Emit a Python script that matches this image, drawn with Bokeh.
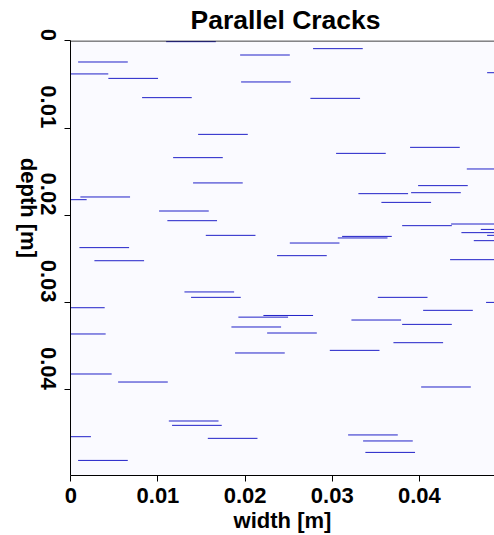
import math
import numpy as np
from bokeh.plotting import figure
from bokeh.models import Range1d, FixedTicker, Span, ColumnDataSource
from bokeh.embed import file_html
from bokeh.resources import INLINE

# ---- data ----
CRACK_LENGTH = 0.0057  # m, all cracks same length
crack_x_start = [
    0.01094, 0.01943, 0.00084, -0.00140, 0.00431, 0.01954, 0.00818, 0.01461,
    0.01174, 0.02780, 0.04777, 0.02749, 0.03893, 0.03044, 0.04544, 0.01403,
    0.00110, -0.00388, 0.01013, 0.01108, 0.01549, 0.00099, 0.00271, 0.02367,
    0.01304, 0.01380, -0.00181, 0.01923, 0.02210, 0.03985, 0.03300, 0.03905,
    0.03564, 0.04364, 0.03802, 0.04705, 0.04482, 0.04777, 0.04624, 0.03113,
    0.03064, 0.02513, 0.04352, 0.03523, 0.04765, 0.04043, 0.03220, 0.01843,
    0.02253, -0.00170, 0.01885, -0.00101, 0.00543, 0.01125, 0.01162, -0.00339,
    0.01572, 0.00084, 0.03802, 0.03702, 0.02972, 0.04020, 0.03182, 0.03354,
    0.03380,
]
crack_depth = [
    0.00008, 0.00161, 0.00241, 0.00378, 0.00429, 0.00470, 0.00650, 0.01071,
    0.01338, 0.00088, 0.00364, 0.00658, 0.01220, 0.01289, 0.01468, 0.01628,
    0.01789, 0.01820, 0.01950, 0.02061, 0.02229, 0.02370, 0.02520, 0.02462,
    0.02878, 0.02940, 0.03059, 0.03167, 0.03148, 0.01659, 0.01751, 0.01740,
    0.01851, 0.02099, 0.02118, 0.02161, 0.02198, 0.02229, 0.02290, 0.02241,
    0.02259, 0.02317, 0.02508, 0.02940, 0.02998, 0.03089, 0.03200, 0.03280,
    0.03349, 0.03360, 0.03578, 0.03819, 0.03911, 0.04358, 0.04408, 0.04538,
    0.04557, 0.04810, 0.03250, 0.03460, 0.03548, 0.03968, 0.04518, 0.04587,
    0.04718,
]
X_TICKS = [0, 0.01, 0.02, 0.03, 0.04]
X_TICK_LABELS = ["0", "0.01", "0.02", "0.03", "0.04"]
Y_TICKS = [0, 0.01, 0.02, 0.03, 0.04]
Y_TICK_LABELS = ["0", "0.01", "0.02", "0.03", "0.04"]
TITLE = "Parallel Cracks"
X_LABEL = "width [m]"
Y_LABEL = "depth [m]"

x0 = np.array(crack_x_start)
y0 = np.array(crack_depth)
src = ColumnDataSource(dict(x0=x0, x1=x0 + CRACK_LENGTH, y=y0))

FONT = "Liberation Sans"

p = figure(width=494, height=535, output_backend="svg", toolbar_location=None,
           x_range=Range1d(-0.000034, 0.048617),
           y_range=Range1d(0.04983, -0.000054),
           min_border_left=70, min_border_right=0, min_border_top=40,
           min_border_bottom=60, title=TITLE)
p.border_fill_color = "white"
p.background_fill_color = "#fafaff"
p.outline_line_color = None
p.xgrid.visible = False
p.ygrid.visible = False

p.title.text_font = FONT
p.title.text_font_size = "26.5px"
p.title.text_font_style = "bold"
p.title.text_color = "black"
p.title.align = "left"
p.title.vertical_align = "top"
p.title.offset = 120
p.title.standoff = 8

p.segment(x0="x0", y0="y", x1="x1", y1="y", source=src,
          line_color="#2020c8", line_width=1)

p.add_layout(Span(location=0, dimension="width", line_color="black", line_width=1))

for ax, ticks, labels in ((p.xaxis[0], X_TICKS, X_TICK_LABELS), (p.yaxis[0], Y_TICKS, Y_TICK_LABELS)):
    ax.ticker = FixedTicker(ticks=ticks)
    ax.major_label_overrides = {t: l for t, l in zip(ticks, labels)}
    ax.minor_tick_line_color = None
    ax.major_tick_in = 0
    ax.major_tick_out = 6
    ax.major_tick_line_color = "black"
    ax.axis_line_color = "black"
    ax.major_label_text_font = FONT
    ax.major_label_text_font_style = "bold"
    ax.major_label_text_font_size = "22px"
    ax.major_label_text_color = "black"
    ax.axis_label_text_font = FONT
    ax.axis_label_text_font_style = "bold"
    ax.axis_label_text_font_size = "22px"
    ax.axis_label_text_color = "black"

p.xaxis.axis_label = X_LABEL
p.yaxis.axis_label = Y_LABEL
p.xaxis.major_label_standoff = 6
p.xaxis.axis_label_standoff = 2
p.yaxis.major_label_orientation = -math.pi / 2
p.yaxis.major_label_standoff = 16
p.yaxis.axis_label_standoff = 2
try:
    p.yaxis[0].axis_label_orientation = -math.pi / 2
except Exception:
    pass

open("out.html", "w").write(file_html(p, INLINE))
